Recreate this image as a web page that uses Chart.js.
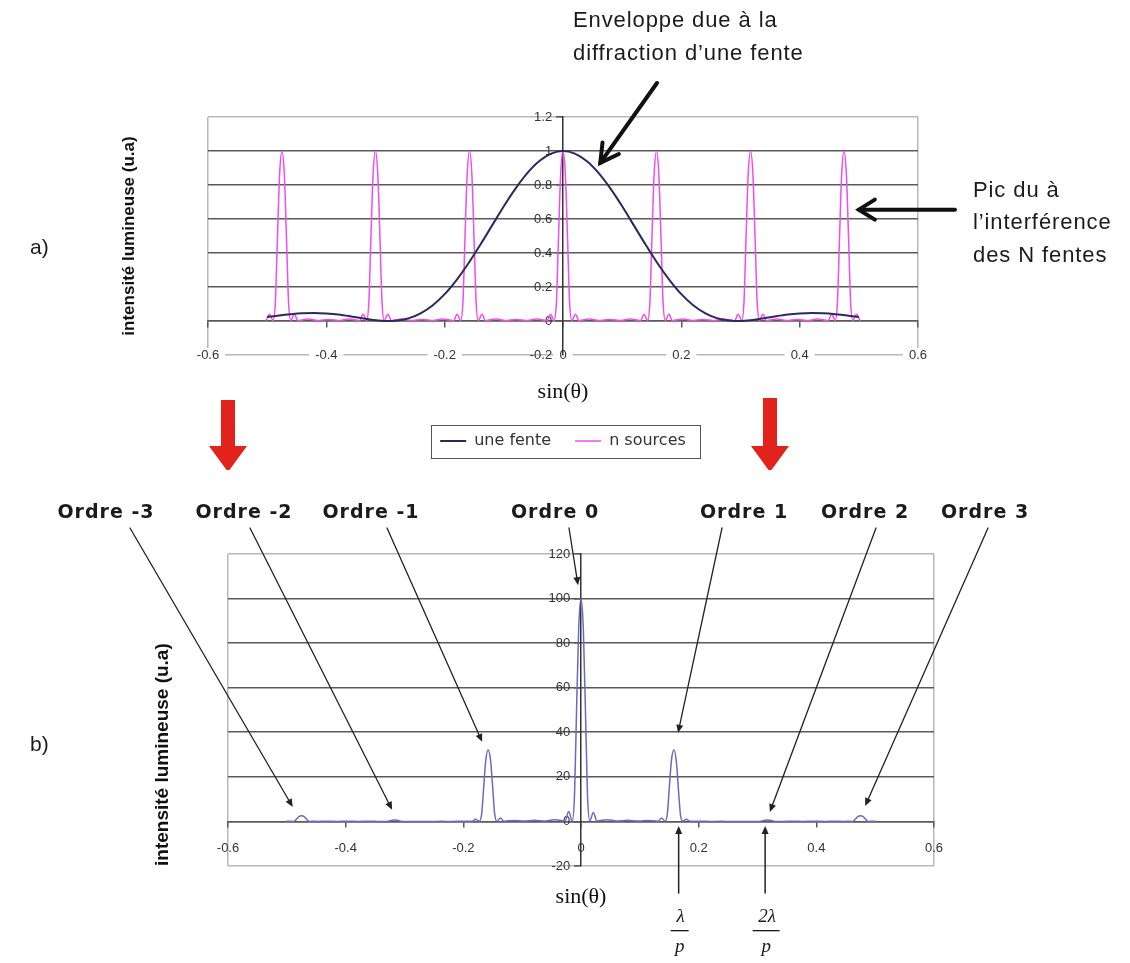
<!DOCTYPE html>
<html>
<head>
<meta charset="utf-8">
<script src="https://cdn.jsdelivr.net/npm/chart.js@4.4.1/dist/chart.umd.min.js"></script>
<style>
  html, body { margin: 0; padding: 0; background: #fff; }
  #page { position: relative; width: 1130px; height: 963px; overflow: hidden; }
  canvas { position: absolute; left: 0; }
  #chartA { top: 0; }
  #chartB { top: 480px; }
</style>
</head>
<body>
<div id="page">
  <canvas id="chartA" width="1130" height="470"></canvas>
  <canvas id="chartB" width="1130" height="483"></canvas>
</div>
<script>
// ---- data ----
const xRange = [-0.6, 0.6];
const xStep = 0.2;
const yRangeA = [-0.2, 1.2];
const yStepA = 0.2;
const yRangeB = [-20, 120];
const yStepB = 20;
const seriesNames = ['une fente', 'n sources'];
const yTitle = 'intensité lumineuse (u.a)';
const xTitle = 'sin(θ)';

// a) single slit envelope
const fenteX = [-0.50, -0.48, -0.46, -0.44, -0.42, -0.40, -0.38, -0.36, -0.34, -0.32,
  -0.30, -0.28, -0.26, -0.24, -0.22, -0.20, -0.18, -0.16, -0.14, -0.12,
  -0.10, -0.08, -0.06, -0.04, -0.02, 0, 0.02, 0.04, 0.06, 0.08,
  0.10, 0.12, 0.14, 0.16, 0.18, 0.20, 0.22, 0.24, 0.26, 0.28,
  0.30, 0.32, 0.34, 0.36, 0.38, 0.40, 0.42, 0.44, 0.46, 0.48, 0.50];
const fenteY = [0.024, 0.033, 0.040, 0.045, 0.047, 0.044, 0.038, 0.028, 0.016, 0.006,
  0.000, 0.003, 0.017, 0.047, 0.093, 0.158, 0.241, 0.338, 0.447, 0.561,
  0.675, 0.780, 0.871, 0.941, 0.985, 1.000, 0.985, 0.941, 0.871, 0.780,
  0.675, 0.561, 0.447, 0.338, 0.241, 0.158, 0.093, 0.047, 0.017, 0.003,
  0.000, 0.006, 0.016, 0.028, 0.038, 0.044, 0.047, 0.045, 0.040, 0.033, 0.024];

// a) N sources interference, b) the grating (same sampling)
const sourcesX = [
  -0.502, -0.496, -0.490, -0.486, -0.483, -0.479, -0.475, -0.471, -0.467, -0.464, -0.460, -0.454, -0.448,
  -0.430, -0.415, -0.396, -0.377, -0.362,
  -0.344, -0.338, -0.332, -0.328, -0.325, -0.321, -0.317, -0.313, -0.309, -0.306, -0.302, -0.296, -0.290,
  -0.272, -0.257, -0.238, -0.219, -0.204,
  -0.185, -0.179, -0.173, -0.169, -0.166, -0.162, -0.158, -0.154, -0.150, -0.147, -0.143, -0.137, -0.131,
  -0.113, -0.098, -0.079, -0.060, -0.045,
  -0.027, -0.021, -0.015, -0.011, -0.008, -0.004, 0, 0.004, 0.008, 0.011, 0.015, 0.021, 0.027,
  0.045, 0.060, 0.079, 0.098, 0.113,
  0.131, 0.137, 0.143, 0.147, 0.150, 0.154, 0.158, 0.162, 0.166, 0.169, 0.173, 0.179, 0.185,
  0.203, 0.218, 0.237, 0.256, 0.271,
  0.290, 0.296, 0.302, 0.306, 0.309, 0.313, 0.317, 0.321, 0.325, 0.328, 0.332, 0.338, 0.344,
  0.362, 0.377, 0.396, 0.415, 0.430,
  0.448, 0.454, 0.460, 0.464, 0.467, 0.471, 0.475, 0.479, 0.483, 0.486, 0.490, 0.496, 0.502];
const sourcesY = [
  0.002, 0.040, 0.003, 0.12, 0.45, 0.86, 1.0, 0.86, 0.45, 0.12, 0.003, 0.040, 0.002,
  0.012, 0.003, 0.009, 0.003, 0.012,
  0.002, 0.040, 0.003, 0.12, 0.45, 0.86, 1.0, 0.86, 0.45, 0.12, 0.003, 0.040, 0.002,
  0.012, 0.003, 0.009, 0.003, 0.012,
  0.002, 0.040, 0.003, 0.12, 0.45, 0.86, 1.0, 0.86, 0.45, 0.12, 0.003, 0.040, 0.002,
  0.012, 0.003, 0.009, 0.003, 0.012,
  0.002, 0.040, 0.003, 0.12, 0.45, 0.86, 1.0, 0.86, 0.45, 0.12, 0.003, 0.040, 0.002,
  0.012, 0.003, 0.009, 0.003, 0.012,
  0.002, 0.040, 0.003, 0.12, 0.45, 0.86, 1.0, 0.86, 0.45, 0.12, 0.003, 0.040, 0.002,
  0.012, 0.003, 0.009, 0.003, 0.012,
  0.002, 0.040, 0.003, 0.12, 0.45, 0.86, 1.0, 0.86, 0.45, 0.12, 0.003, 0.040, 0.002,
  0.012, 0.003, 0.009, 0.003, 0.012,
  0.002, 0.040, 0.003, 0.12, 0.45, 0.86, 1.0, 0.86, 0.45, 0.12, 0.003, 0.040, 0.002];
const reseauY = [
  0, 0.1, 0, 0.3, 1.2, 2.3, 2.6, 2.3, 1.2, 0.3, 0, 0.1, 0,
  0.05, 0.01, 0.04, 0.01, 0.05,
  0, 0.01, 0, 0.1, 0.3, 0.5, 0.6, 0.5, 0.3, 0.1, 0, 0.01, 0,
  0.02, 0, 0.03, 0, 0.05,
  0.1, 1.0, 0.1, 3, 13, 27, 32, 28, 15, 4, 0.1, 1.5, 0.1,
  0.4, 0.2, 0.5, 0.2, 0.8,
  0.2, 4.5, 0.3, 12, 45, 86, 100, 86, 45, 12, 0.3, 4, 0.2,
  0.8, 0.2, 0.5, 0.2, 0.4,
  0.1, 1.5, 0.1, 4, 15, 28, 32, 27, 13, 3, 0.1, 1.0, 0.1,
  0.05, 0, 0.03, 0, 0.02,
  0, 0.01, 0, 0.1, 0.3, 0.5, 0.6, 0.5, 0.3, 0.1, 0, 0.01, 0,
  0.05, 0.01, 0.04, 0.01, 0.05,
  0, 0.1, 0, 0.3, 1.2, 2.3, 2.6, 2.3, 1.2, 0.3, 0, 0.1, 0];

const ordreLabels = ['Ordre -3', 'Ordre -2', 'Ordre -1', 'Ordre 0', 'Ordre 1', 'Ordre 2', 'Ordre 3'];
// where each "Ordre" arrow points, in data units
const ordreTipX = [-0.49, -0.321, -0.168, -0.005, 0.165, 0.321, 0.483];
const ordreTipY = [6.5, 5.2, 35.7, 106, 39.8, 4.2, 6.9];

// ---- styles ----
const navy = '#2a2a60';
const magenta = '#f04cf0';
const violet = '#6a6ac2';
const gridDark = '#5a5a5a';
const gridLight = '#b8b8b8';
const clear = 'rgba(0,0,0,0)';
const near = (a, b) => Math.abs(a - b) < 1e-6;
const yLabel = v => (+v.toFixed(2)) + '   ';

Chart.defaults.font.family = '"Liberation Sans", Arial, sans-serif';
Chart.defaults.color = '#333';

function arrow(ctx, x1, y1, x2, y2, o) {
  const ang = Math.atan2(y2 - y1, x2 - x1);
  const bx = x2 - Math.cos(ang) * o.head, by = y2 - Math.sin(ang) * o.head;
  const px = -Math.sin(ang) * o.spread, py = Math.cos(ang) * o.spread;
  ctx.save();
  ctx.strokeStyle = o.color || '#111';
  ctx.fillStyle = o.color || '#111';
  ctx.lineWidth = o.width;
  ctx.lineCap = 'round';
  ctx.beginPath();
  ctx.moveTo(x1, y1);
  if (o.open) ctx.lineTo(x2, y2);
  else ctx.lineTo(bx, by);
  ctx.stroke();
  ctx.beginPath();
  if (o.open) {
    ctx.moveTo(bx + px, by + py); ctx.lineTo(x2, y2); ctx.lineTo(bx - px, by - py);
    ctx.stroke();
  } else {
    ctx.moveTo(x2, y2); ctx.lineTo(bx + px, by + py); ctx.lineTo(bx - px, by - py);
    ctx.closePath(); ctx.fill();
  }
  ctx.restore();
}

function redArrow(ctx, cx, top, tip) {
  ctx.save();
  ctx.fillStyle = '#e2231c';
  ctx.beginPath();
  ctx.moveTo(cx - 7, top); ctx.lineTo(cx + 7, top);
  ctx.lineTo(cx + 7, tip - 26); ctx.lineTo(cx + 19, tip - 26);
  ctx.lineTo(cx, tip); ctx.lineTo(cx - 19, tip - 26);
  ctx.lineTo(cx - 7, tip - 26);
  ctx.closePath(); ctx.fill();
  ctx.restore();
}

const annotA = {
  id: 'annotA',
  afterDraw(chart) {
    const { ctx, scales: { x, y } } = chart;
    ctx.save();
    ctx.fillStyle = '#1b1b1b';
    ctx.textAlign = 'left';
    ctx.textBaseline = 'middle';
    ctx.font = '22px "Liberation Sans", Arial, sans-serif';
    ctx.letterSpacing = '0.9px';
    ctx.fillText('Enveloppe due à la', 573, 21);
    ctx.fillText('diffraction d\u2019une fente', 573, 54);
    ctx.fillText('Pic du à', 973, 191);
    ctx.fillText('l\u2019interférence', 973, 223);
    ctx.fillText('des N fentes', 973, 256);
    ctx.letterSpacing = '0px';
    ctx.font = '21px "Liberation Sans", Arial, sans-serif';
    ctx.fillText('a)', 30, 248);

    arrow(ctx, 657, 83, x.getPixelForValue(0.063), y.getPixelForValue(0.93),
      { width: 4, head: 18, spread: 10, open: true });
    const py = y.getPixelForValue(0.655);
    arrow(ctx, 955, py, x.getPixelForValue(0.5), py,
      { width: 4, head: 16, spread: 10, open: true });

    redArrow(ctx, 228, 400, 472);
    redArrow(ctx, 770, 398, 472);

    // legend frame
    const hb = chart.legend.legendHitBoxes;
    if (hb && hb.length) {
      const l = Math.min(...hb.map(b => b.left)) - 9;
      const r = Math.max(...hb.map(b => b.left + b.width)) + 14;
      const t = hb[0].top - 8, b = hb[0].top + hb[0].height + 9;
      ctx.strokeStyle = '#555';
      ctx.lineWidth = 1;
      ctx.strokeRect(Math.round(l) + 0.5, Math.round(t) + 0.5, Math.round(r - l), Math.round(b - t));
    }
    ctx.restore();
  }
};

const annotB = {
  id: 'annotB',
  afterDraw(chart) {
    const { ctx, scales: { x, y } } = chart;
    const labelX = [106, 244, 371, 555, 744, 865, 985];
    const tailX = [130, 250, 387, 569, 722, 876, 988];
    ctx.save();
    ctx.fillStyle = '#1b1b1b';
    ctx.textAlign = 'center';
    ctx.textBaseline = 'middle';
    ctx.font = 'bold 19px "DejaVu Sans", sans-serif';
    ctx.letterSpacing = '1px';
    ordreLabels.forEach((t, i) => {
      ctx.fillText(t, labelX[i], 33);
      arrow(ctx, tailX[i], 48, x.getPixelForValue(ordreTipX[i]), y.getPixelForValue(ordreTipY[i]),
        { width: 1.3, head: 8, spread: 3.5, color: '#222' });
    });
    ctx.letterSpacing = '0px';

    // lambda / p marks
    [[0.166, 'λ'], [0.313, '2λ']].forEach(([v, t]) => {
      const px = x.getPixelForValue(v);
      arrow(ctx, px, 413, px, y.getPixelForValue(-2), { width: 1.5, head: 8, spread: 3.5, color: '#222' });
      ctx.font = 'italic 19px "Liberation Serif", serif';
      ctx.fillText(t, px + 2, 437);
      ctx.fillText('p', px + 1, 467);
      const w = t.length > 1 ? 27 : 18;
      ctx.fillRect(px + 1 - w / 2, 450, w, 1.3);
    });

    ctx.textAlign = 'left';
    ctx.font = '21px "Liberation Sans", Arial, sans-serif';
    ctx.fillText('b)', 30, 265);
    ctx.restore();
  }
};

const toPoints = (xs, ys) => xs.map((v, i) => ({ x: v, y: ys[i] }));

// ---- chart a) ----
new Chart(document.getElementById('chartA'), {
  type: 'line',
  data: {
    datasets: [
      { label: seriesNames[0], data: toPoints(fenteX, fenteY), borderColor: navy, backgroundColor: navy,
        borderWidth: 2, pointRadius: 0, cubicInterpolationMode: 'monotone', xAxisID: 'x', yAxisID: 'y' },
      { label: seriesNames[1], data: toPoints(sourcesX, sourcesY), borderColor: magenta, backgroundColor: magenta,
        borderWidth: 1.5, pointRadius: 0, cubicInterpolationMode: 'monotone', xAxisID: 'x', yAxisID: 'y' }
    ]
  },
  options: {
    responsive: false,
    animation: false,
    devicePixelRatio: 1,
    layout: { padding: { top: 117, left: 117, right: 212, bottom: 11 } },
    plugins: {
      tooltip: { enabled: false },
      legend: {
        position: 'bottom',
        fullSize: false,
        labels: { usePointStyle: true, pointStyle: 'line', pointStyleWidth: 26, padding: 24,
          color: '#333', font: { family: '"DejaVu Sans", sans-serif', size: 16 } }
      }
    },
    scales: {
      x: {
        type: 'linear', position: { y: 0 }, min: xRange[0], max: xRange[1],
        ticks: { stepSize: xStep, padding: 21, color: '#333', font: { size: 13 },
          showLabelBackdrop: true, backdropColor: '#fff', backdropPadding: { x: 6, y: 0 } },
        grid: { color: c => near(Math.abs(c.tick.value), 0.6) ? gridLight : clear, lineWidth: 1.5,
          tickLength: 6, tickColor: gridDark },
        border: { color: gridDark, width: 1.5 },
        title: { display: true, text: xTitle, color: '#111',
          font: { family: '"Liberation Serif", serif', size: 22 }, padding: { top: 0, bottom: 0 } },
        afterFit: s => { s.height = 84; }
      },
      // empty band that keeps the legend below the title
      xb: {
        axis: 'x', type: 'linear', position: 'bottom', min: xRange[0], max: xRange[1],
        ticks: { display: false }, grid: { display: false }, border: { display: false },
        afterFit: s => { s.height = 54; }
      },
      y: {
        type: 'linear', position: { x: 0 }, min: yRangeA[0], max: yRangeA[1],
        ticks: { stepSize: yStepA, color: '#333', font: { size: 13 }, callback: yLabel },
        grid: { color: c => (near(c.tick.value, 1.2) || near(c.tick.value, -0.2)) ? gridLight : gridDark,
          lineWidth: 1.6, tickLength: 6, tickColor: gridDark },
        border: { color: '#333', width: 1.5 },
        afterFit: s => { s.width = 0; }
      },
      yt: {
        axis: 'y', type: 'linear', position: 'left', min: 0, max: 1,
        ticks: { display: false }, grid: { display: false }, border: { display: false },
        title: { display: true, text: yTitle, color: '#111', font: { size: 17, weight: 'bold' },
          padding: { top: 2, bottom: 0 } },
        afterFit: s => { s.width = 91; }
      }
    }
  },
  plugins: [annotA]
});

// ---- chart b) ----
new Chart(document.getElementById('chartB'), {
  type: 'line',
  data: {
    datasets: [
      { label: 'réseau', data: toPoints(sourcesX, reseauY), borderColor: violet, backgroundColor: violet,
        borderWidth: 1.5, pointRadius: 0, cubicInterpolationMode: 'monotone', xAxisID: 'x', yAxisID: 'y' }
    ]
  },
  options: {
    responsive: false,
    animation: false,
    devicePixelRatio: 1,
    layout: { padding: { top: 74, left: 143, right: 196, bottom: 97 } },
    plugins: { tooltip: { enabled: false }, legend: { display: false } },
    scales: {
      x: {
        type: 'linear', position: { y: 0 }, min: xRange[0], max: xRange[1],
        ticks: { stepSize: xStep, padding: 14, color: '#333', font: { size: 13 } },
        grid: { color: c => near(Math.abs(c.tick.value), 0.6) ? gridLight : clear, lineWidth: 1.5,
          tickLength: 5, tickColor: gridDark },
        border: { color: gridDark, width: 1.5 },
        title: { display: true, text: xTitle, color: '#111',
          font: { family: '"Liberation Serif", serif', size: 22 }, padding: { top: 0, bottom: 4 } },
        afterFit: s => { s.height = 93; }
      },
      y: {
        type: 'linear', position: { x: 0 }, min: yRangeB[0], max: yRangeB[1],
        ticks: { stepSize: yStepB, color: '#333', font: { size: 13 }, callback: yLabel },
        grid: { color: c => (near(c.tick.value, 120) || near(c.tick.value, -20)) ? gridLight : gridDark,
          lineWidth: 1.6, tickLength: 6, tickColor: gridDark },
        border: { color: '#333', width: 1.5 },
        afterFit: s => { s.width = 0; }
      },
      yt: {
        axis: 'y', type: 'linear', position: 'left', min: 0, max: 1,
        ticks: { display: false }, grid: { display: false }, border: { display: false },
        title: { display: true, text: yTitle, color: '#111', align: 'start', font: { size: 19, weight: 'bold' },
          padding: { top: 8, bottom: 0 } },
        afterFit: s => { s.width = 85; }
      }
    }
  },
  plugins: [annotB]
});
</script>
</body>
</html>
